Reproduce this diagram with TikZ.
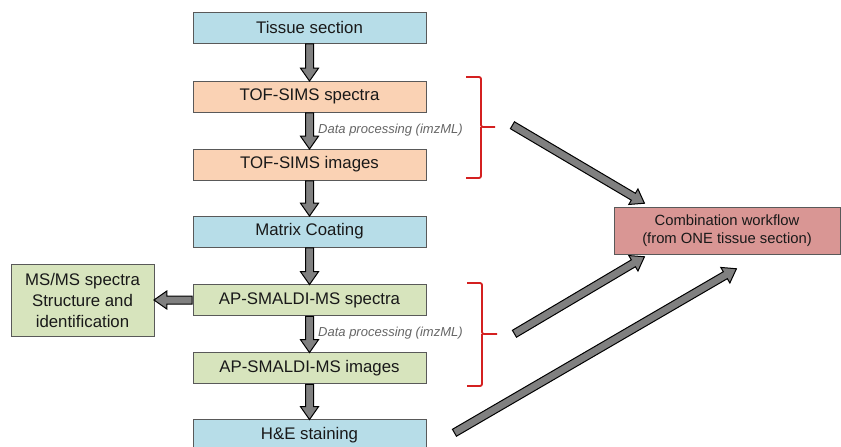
\documentclass[tikz,border=0pt]{standalone}
\usepackage{fontspec}
\setmainfont{Liberation Sans}
\usetikzlibrary{shapes.arrows,calc}
\definecolor{bluebox}{HTML}{B7DDE8}
\definecolor{orangebox}{HTML}{FAD2B4}
\definecolor{greenbox}{HTML}{D7E4BD}
\definecolor{redbox}{HTML}{D99694}
\definecolor{bracered}{HTML}{D42020}
\tikzset{
  box/.style={draw=black!65, line width=0.9pt, minimum width=233pt, minimum height=31pt,
    inner sep=0pt, text=black!90, font=\fontsize{16.8}{20}\selectfont},
  fat/.style={single arrow, draw=black, line width=1pt, fill=black!50, inner xsep=0pt,
    inner ysep=3.5pt, minimum width=17pt, single arrow head extend=5pt,
    single arrow tip angle=70, single arrow head indent=0pt},
  brace/.style={draw=bracered, line width=1.8pt, rounded corners=2pt},
  dp/.style={font=\itshape\fontsize{13}{15}\selectfont, text=black!60, anchor=west, inner sep=0pt}
}
\newcommand\fatarrow[2]{\path let \p1=(#1), \p2=(#2), \n1={atan2(\y2-\y1,\x2-\x1)},
  \n2={veclen(\x2-\x1,\y2-\y1)} in node[fat, minimum height=\n2, rotate=\n1, anchor=tail] at (\p1) {};}
\begin{document}
\begin{tikzpicture}[x=1pt,y=-1pt]
\clip (0,0) rectangle (841,447);
\fill[white] (0,0) rectangle (841,447);
% main column
\node[box, fill=bluebox]   (ts)   at (309.5,27.5) {Tissue section};
\node[box, fill=orangebox] (tofs) at (309.5,96.5) {TOF-SIMS spectra};
\node[box, fill=orangebox] (tofi) at (309.5,164.5) {TOF-SIMS images};
\node[box, fill=bluebox]   (mc)   at (309.5,231.5) {Matrix Coating};
\node[box, fill=greenbox]  (aps)  at (309.5,300) {AP-SMALDI-MS spectra};
\node[box, fill=greenbox]  (api)  at (309.5,368) {AP-SMALDI-MS images};
\node[box, fill=bluebox]   (he)   at (309.5,435) {H\&E staining};
% side boxes
\node[box, fill=greenbox, minimum width=143pt, minimum height=72pt, align=center,
  font=\fontsize{16.8}{21}\selectfont] (msms) at (82.5,300)
  {MS/MS spectra\\Structure and\\identification};
\node[box, fill=redbox, minimum width=226pt, minimum height=47pt, align=center,
  font=\fontsize{14.8}{17.5}\selectfont] (comb) at (727,230.5)
  {Combination workflow\\(from ONE tissue section)};
% vertical arrows
\fatarrow{ts.south}{tofs.north}
\fatarrow{tofs.south}{tofi.north}
\fatarrow{tofi.south}{mc.north}
\fatarrow{mc.south}{aps.north}
\fatarrow{aps.south}{api.north}
\fatarrow{api.south}{he.north}
\fatarrow{aps.west}{msms.east}
% labels
\node[dp] (dp1) at (318,130) {Data processing (imzML)};
\node[dp] (dp2) at (318,333) {Data processing (imzML)};
% braces
\draw[brace] (466,77) -- (481,77) -- (481,127) -- (495,127) (481,127) -- (481,178) -- (466,178);
\draw[brace] (467,283) -- (482,283) -- (482,334) -- (497,334) (482,334) -- (482,386) -- (467,386);
% diagonal arrows
\coordinate (s1) at (512,125);
\coordinate (t1) at (644,203);
\coordinate (s2) at (514,334);
\coordinate (t2) at (644,257);
\coordinate (s3) at (454,433);
\coordinate (t3) at (736,269);
\fatarrow{s1}{t1}
\fatarrow{s2}{t2}
\fatarrow{s3}{t3}
\end{tikzpicture}
\end{document}
